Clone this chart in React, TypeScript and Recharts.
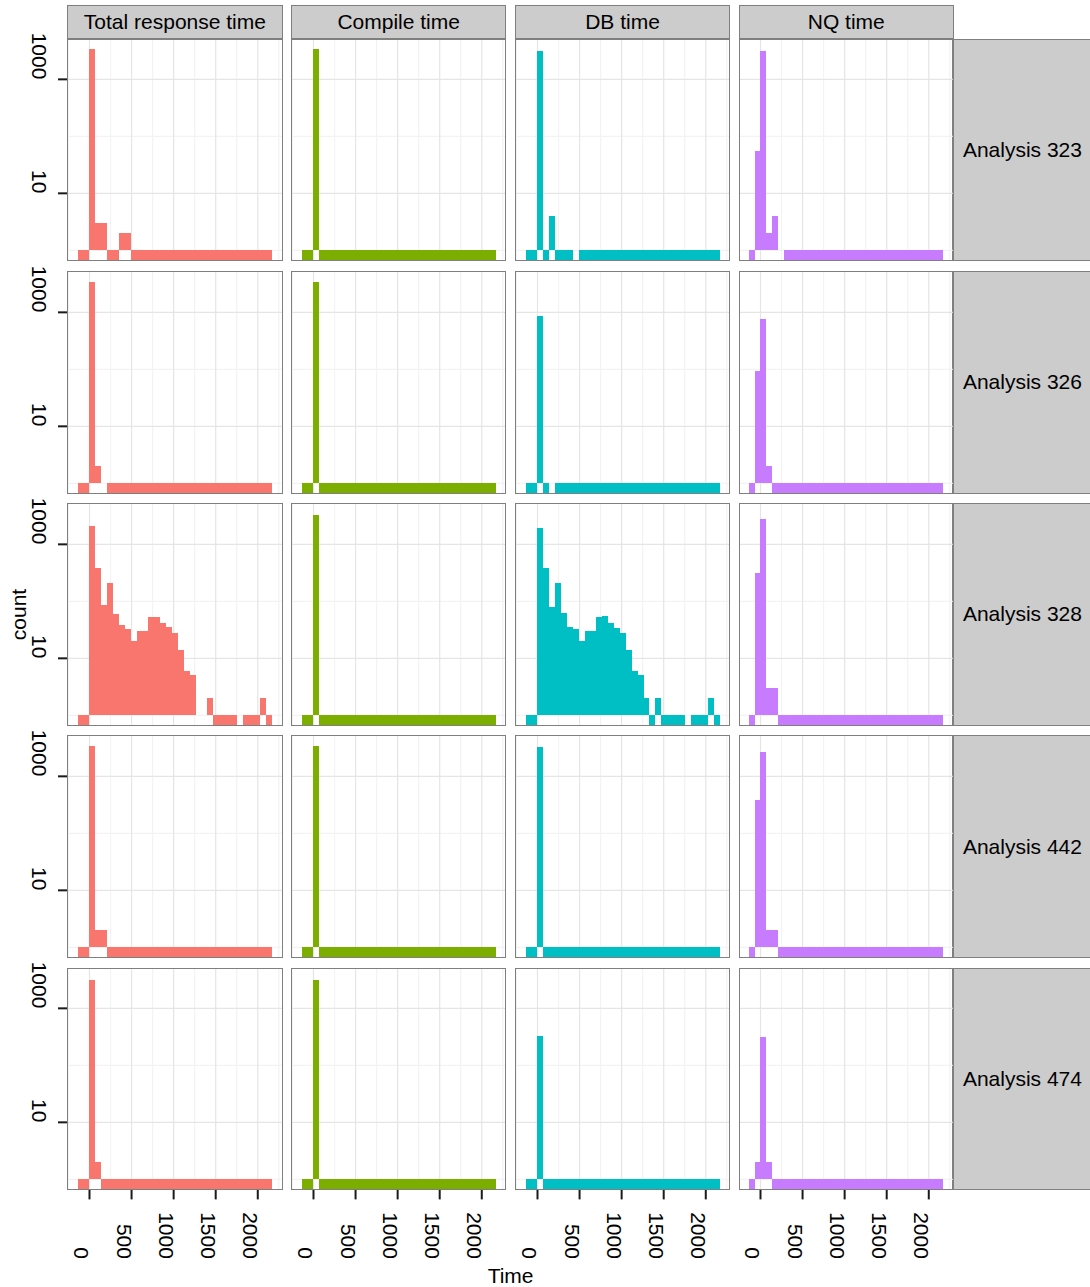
import React from 'react';
import { BarChart, Bar, XAxis, YAxis, CartesianGrid } from 'recharts';

// Facet labels
const ANALYSES = ['Analysis 323', 'Analysis 326', 'Analysis 328', 'Analysis 442', 'Analysis 474'];
const MEASURES = ['Total response time', 'Compile time', 'DB time', 'NQ time'];
const COLORS = ['#F8766D', '#7CAE00', '#00BFC4', '#C77CFF'];

// Histogram bins: 33 bins of 70 time units, first bin starts at -140
const BIN_START = -140;
const BIN_WIDTH = 70;
const BIN_COUNT = 33;

// Axis breaks
const X_TICKS = [0, 500, 1000, 1500, 2000];
const X_MINOR = [-250, 250, 750, 1250, 1750, 2250];
const Y_TICKS = [10, 1000];
const Y_MINOR = [1, 100, 10000];

// Counts per bin, one array per analysis and measure
const total323 = [
  0, 0, 3370, 3, 3, 0, 0, 2, 2, 0,
  0, 0, 0, 0, 0, 0, 0, 0, 0, 0,
  0, 0, 0, 0, 0, 0, 0, 0, 0, 0,
  0, 0, 0,
];
const compile323 = [
  0, 0, 3380, 0, 0, 0, 0, 0, 0, 0,
  0, 0, 0, 0, 0, 0, 0, 0, 0, 0,
  0, 0, 0, 0, 0, 0, 0, 0, 0, 0,
  0, 0, 0,
];
const db323 = [
  0, 0, 3100, 0, 4, 0, 0, 0, 1, 0,
  0, 0, 0, 0, 0, 0, 0, 0, 0, 0,
  0, 0, 0, 0, 0, 0, 0, 0, 0, 0,
  0, 0, 0,
];
const nq323 = [
  0, 56, 3100, 2, 4, 1, 0, 0, 0, 0,
  0, 0, 0, 0, 0, 0, 0, 0, 0, 0,
  0, 0, 0, 0, 0, 0, 0, 0, 0, 0,
  0, 0, 0,
];

const total326 = [
  0, 0, 3400, 2, 1, 0, 0, 0, 0, 0,
  0, 0, 0, 0, 0, 0, 0, 0, 0, 0,
  0, 0, 0, 0, 0, 0, 0, 0, 0, 0,
  0, 0, 0,
];
const compile326 = [
  0, 0, 3400, 0, 0, 0, 0, 0, 0, 0,
  0, 0, 0, 0, 0, 0, 0, 0, 0, 0,
  0, 0, 0, 0, 0, 0, 0, 0, 0, 0,
  0, 0, 0,
];
const db326 = [
  0, 0, 860, 0, 1, 0, 0, 0, 0, 0,
  0, 0, 0, 0, 0, 0, 0, 0, 0, 0,
  0, 0, 0, 0, 0, 0, 0, 0, 0, 0,
  0, 0, 0,
];
const nq326 = [
  0, 93, 760, 2, 0, 0, 0, 0, 0, 0,
  0, 0, 0, 0, 0, 0, 0, 0, 0, 0,
  0, 0, 0, 0, 0, 0, 0, 0, 0, 0,
  0, 0, 0,
];

const total328 = [
  0, 0, 2110, 386, 87, 210, 60, 38, 33, 20,
  30, 30, 53, 53, 42, 35, 28, 14, 6, 5,
  1, 1, 2, 0, 0, 0, 0, 1, 0, 0,
  0, 2, 0,
];
const compile328 = [
  0, 0, 3300, 0, 0, 0, 0, 0, 0, 0,
  0, 0, 0, 0, 0, 0, 0, 0, 0, 0,
  0, 0, 0, 0, 0, 0, 0, 0, 0, 0,
  0, 0, 0,
];
const db328 = [
  0, 0, 1950, 386, 80, 210, 62, 35, 33, 20,
  30, 30, 53, 55, 42, 34, 28, 14, 6, 5,
  2, 0, 2, 0, 0, 0, 0, 1, 0, 0,
  0, 2, 0,
];
const nq328 = [
  0, 315, 2800, 3, 3, 0, 0, 0, 0, 0,
  0, 0, 0, 0, 0, 0, 0, 0, 0, 0,
  0, 0, 0, 0, 0, 0, 0, 0, 0, 0,
  0, 0, 0,
];

const total442 = [
  0, 0, 3400, 2, 2, 0, 0, 0, 0, 0,
  0, 0, 0, 0, 0, 0, 0, 0, 0, 0,
  0, 0, 0, 0, 0, 0, 0, 0, 0, 0,
  0, 0, 0,
];
const compile442 = [
  0, 0, 3400, 0, 0, 0, 0, 0, 0, 0,
  0, 0, 0, 0, 0, 0, 0, 0, 0, 0,
  0, 0, 0, 0, 0, 0, 0, 0, 0, 0,
  0, 0, 0,
];
const db442 = [
  0, 0, 3300, 0, 0, 0, 0, 0, 0, 0,
  0, 0, 0, 0, 0, 0, 0, 0, 0, 0,
  0, 0, 0, 0, 0, 0, 0, 0, 0, 0,
  0, 0, 0,
];
const nq442 = [
  0, 390, 2700, 2, 2, 0, 0, 0, 0, 0,
  0, 0, 0, 0, 0, 0, 0, 0, 0, 0,
  0, 0, 0, 0, 0, 0, 0, 0, 0, 0,
  0, 0, 0,
];

const total474 = [
  0, 0, 3100, 2, 0, 0, 0, 0, 0, 0,
  0, 0, 0, 0, 0, 0, 0, 0, 0, 0,
  0, 0, 0, 0, 0, 0, 0, 0, 0, 0,
  0, 0, 0,
];
const compile474 = [
  0, 0, 3100, 0, 0, 0, 0, 0, 0, 0,
  0, 0, 0, 0, 0, 0, 0, 0, 0, 0,
  0, 0, 0, 0, 0, 0, 0, 0, 0, 0,
  0, 0, 0,
];
const db474 = [
  0, 0, 322, 0, 0, 0, 0, 0, 0, 0,
  0, 0, 0, 0, 0, 0, 0, 0, 0, 0,
  0, 0, 0, 0, 0, 0, 0, 0, 0, 0,
  0, 0, 0,
];
const nq474 = [
  0, 2, 310, 2, 0, 0, 0, 0, 0, 0,
  0, 0, 0, 0, 0, 0, 0, 0, 0, 0,
  0, 0, 0, 0, 0, 0, 0, 0, 0, 0,
  0, 0, 0,
];

const COUNTS: number[][][] = [
  [total323, compile323, db323, nq323],
  [total326, compile326, db326, nq326],
  [total328, compile328, db328, nq328],
  [total442, compile442, db442, nq442],
  [total474, compile474, db474, nq474],
];

// Shared scales (log10 counts on y, 5% expansion like ggplot)
const MAX_LOG = Math.max(...COUNTS.flat(2).filter((c) => c > 0).map((c) => Math.log10(c)));
const Y_LO = -0.05 * MAX_LOG;
const Y_HI = 1.05 * MAX_LOG;
const BIN_END = BIN_START + BIN_COUNT * BIN_WIDTH;
const X_PAD = 0.05 * (BIN_END - BIN_START);
const X_LO = BIN_START - X_PAD;
const X_HI = BIN_END + X_PAD;
const BIN_CENTERS = Array.from({ length: BIN_COUNT }, (_, i) => BIN_START + BIN_WIDTH * (i + 0.5));

// empty bins have log(0) = -Inf and are squished to the panel floor
const toLog = (c: number) => (c > 0 ? Math.log10(c) : Y_LO);

// Layout
const FONT = '"Liberation Sans", Arial, Helvetica, sans-serif';
const PANEL_W = 213.8;
const PANEL_H = 221.4;
const PANEL_X0 = 68;
const PANEL_DX = 223.8;
const PANEL_Y0 = 39.3;
const PANEL_DY = 232.25;
const Y_AXIS_W = 68;
const X_AXIS_H = 75;
const TOP_PAD = 40; // room above the left-column panels for rotated tick labels
const STRIP_TOP = 4.7;
const STRIP_H = 34.6;
const RIGHT_STRIP_W = 140;
const BORDER = '#7F7F7F';
// one bin's width in pixels on the shared x scale
const BAR_PX = (PANEL_W * BIN_WIDTH) / (X_HI - X_LO);

const inside = (v: number, lo: number, hi: number) => v > lo && v < hi;

// Bars span the full bin (Recharts floors bar widths) and are snapped to
// whole pixels so neighbouring bins tile without seams
const BinRect = (props: any) => {
  const { x, y, height, fill } = props;
  if (!height) return null;
  const y0 = Math.round(Math.min(y, y + height));
  const y1 = Math.round(Math.max(y, y + height));
  const x0 = Math.round(x);
  const x1 = Math.round(x + BAR_PX);
  if (y1 <= y0 || x1 <= x0) return null;
  return (
    <rect x={x0} y={y0} width={x1 - x0} height={y1 - y0} fill={fill} shapeRendering="crispEdges" />
  );
};

const XTick = (props: any) => {
  const { x, y, payload } = props;
  return (
    <text
      transform={`translate(${x - 15},${y + 59.5}) rotate(90)`}
      textAnchor="end"
      fontSize={21}
      fontFamily={FONT}
      fill="#000"
    >
      {payload.value}
    </text>
  );
};

const YTick = (props: any) => {
  const { x, y, payload } = props;
  return (
    <text
      transform={`translate(${x - 26},${y}) rotate(90)`}
      textAnchor="end"
      fontSize={21}
      fontFamily={FONT}
      fill="#000"
    >
      {Math.round(Math.pow(10, payload.value))}
    </text>
  );
};

function Panel({ row, col }: { row: number; col: number }) {
  const hasY = col === 0;
  const hasX = row === ANALYSES.length - 1;
  const topPad = hasY ? TOP_PAD : 0;
  const w = PANEL_W + (hasY ? Y_AXIS_W : 0);
  const h = PANEL_H + topPad + (hasX ? X_AXIS_H : 0);
  const px = PANEL_X0 + col * PANEL_DX;
  const py = PANEL_Y0 + row * PANEL_DY;
  const counts = COUNTS[row][col];
  const data = BIN_CENTERS.map((x, i) => ({ x, v: toLog(counts[i]) }));

  const yMinor = Y_MINOR.map(Math.log10).filter((v) => inside(v, Y_LO, Y_HI));
  const yMajor = Y_TICKS.map(Math.log10);
  const xMinor = X_MINOR.filter((v) => inside(v, X_LO, X_HI));

  return (
    <div
      style={{
        position: 'absolute',
        left: px - (hasY ? Y_AXIS_W : 0),
        top: py - topPad,
        width: w,
        height: h,
      }}
    >
      <BarChart
        width={w}
        height={h}
        data={data}
        margin={{ top: topPad, right: 0, bottom: 0, left: 0 }}
        barCategoryGap={0}
        barGap={0}
      >
        <CartesianGrid stroke="#F3F3F3" strokeWidth={1.2} horizontalValues={yMinor} verticalValues={xMinor} />
        <CartesianGrid stroke="#E5E5E5" strokeWidth={1.2} horizontalValues={yMajor} verticalValues={X_TICKS} />
        <XAxis
          type="number"
          dataKey="x"
          domain={[X_LO, X_HI]}
          allowDataOverflow
          ticks={X_TICKS}
          interval={0}
          hide={!hasX}
          height={X_AXIS_H}
          tickSize={10}
          tickMargin={0}
          axisLine={false}
          tickLine={{ stroke: '#1a1a1a', strokeWidth: 2 }}
          tick={<XTick />}
        />
        <YAxis
          type="number"
          domain={[Y_LO, Y_HI]}
          allowDataOverflow
          ticks={yMajor}
          interval={0}
          hide={!hasY}
          width={Y_AXIS_W}
          tickSize={10}
          tickMargin={0}
          axisLine={false}
          tickLine={{ stroke: '#1a1a1a', strokeWidth: 2 }}
          tick={<YTick />}
        />
        <Bar
          dataKey="v"
          fill={COLORS[col]}
          isAnimationActive={false}
          barSize={BAR_PX}
          shape={<BinRect />}
        />
      </BarChart>
      <div
        style={{
          position: 'absolute',
          left: (hasY ? Y_AXIS_W : 0) - 0.75,
          top: topPad - 0.75,
          width: PANEL_W + 1.5,
          height: PANEL_H + 1.5,
          border: `1.5px solid ${BORDER}`,
          boxSizing: 'border-box',
          pointerEvents: 'none',
        }}
      />
    </div>
  );
}

const stripStyle: React.CSSProperties = {
  position: 'absolute',
  background: '#CCCCCC',
  border: `1.5px solid ${BORDER}`,
  boxSizing: 'border-box',
  display: 'flex',
  alignItems: 'center',
  justifyContent: 'center',
  fontFamily: FONT,
  fontSize: 21,
  color: '#000',
  whiteSpace: 'nowrap',
};

export default function App() {
  const lastRight = PANEL_X0 + (MEASURES.length - 1) * PANEL_DX + PANEL_W;
  const gridCenterX = (PANEL_X0 + lastRight) / 2;
  const gridBottom = PANEL_Y0 + (ANALYSES.length - 1) * PANEL_DY + PANEL_H;
  const gridCenterY = (PANEL_Y0 + gridBottom) / 2;

  return (
    <div
      style={{
        position: 'absolute',
        left: 0,
        top: 0,
        width: 1090,
        height: 1287,
        background: '#fff',
        overflow: 'hidden',
        fontFamily: FONT,
      }}
    >
      {MEASURES.map((m, c) => (
        <div
          key={m}
          style={{ ...stripStyle, left: PANEL_X0 + c * PANEL_DX - 0.75, top: STRIP_TOP, width: PANEL_W + 1.5, height: STRIP_H }}
        >
          {m}
        </div>
      ))}
      {ANALYSES.map((a, r) => (
        <div
          key={a}
          style={{
            ...stripStyle,
            left: lastRight - 0.75,
            top: PANEL_Y0 + r * PANEL_DY - 0.75,
            width: RIGHT_STRIP_W,
            height: PANEL_H + 1.5,
          }}
        >
          {a}
        </div>
      ))}
      {ANALYSES.map((a, r) =>
        MEASURES.map((m, c) => <Panel key={`${a}-${m}`} row={r} col={c} />)
      )}
      <svg
        width={1090}
        height={1287}
        style={{ position: 'absolute', left: 0, top: 0, pointerEvents: 'none' }}
      >
        <text x={gridCenterX} y={1283} textAnchor="middle" fontSize={21} fontFamily={FONT} fill="#000">
          Time
        </text>
        <text
          transform={`translate(25.5,${gridCenterY}) rotate(-90)`}
          textAnchor="middle"
          fontSize={21}
          fontFamily={FONT}
          fill="#000"
        >
          count
        </text>
      </svg>
    </div>
  );
}
